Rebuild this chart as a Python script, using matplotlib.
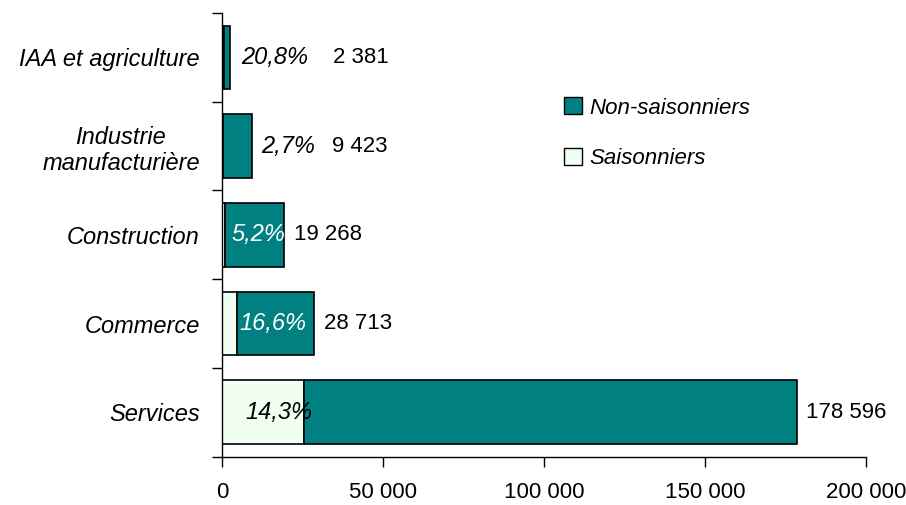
import matplotlib

matplotlib.use("Agg")

import matplotlib.pyplot as plt  # noqa: E402
from matplotlib.patches import Patch  # noqa: E402
from matplotlib.ticker import FuncFormatter  # noqa: E402

# bottom to top, as drawn
categories = ["Services", "Commerce", "Construction", "Industrie\nmanufacturière", "IAA et agriculture"]
totals = [178596, 28713, 19268, 9423, 2381]
saisonniers = [25540, 4766, 1002, 254, 495]
pct_labels = ["14,3%", "16,6%", "5,2%", "2,7%", "20,8%"]
total_labels = ["178 596", "28 713", "19 268", "9 423", "2 381"]
x_ticks = [0, 50000, 100000, 150000, 200000]

non_saisonniers = [t - s for t, s in zip(totals, saisonniers)]

# label placement (data coords), roughly where the original put them
pct_x = [17700, 15900, 11200, 20400, 16500]
pct_color = ["black", "white", "white", "black", "black"]
total_x = [181400, 31700, 22300, 34200, 34500]

TEAL = "#008080"
PALE = "#F0FFF0"
FAMILY = ["Liberation Sans Narrow", "Liberation Sans", "DejaVu Sans"]

plt.rcParams["font.family"] = FAMILY

fig = plt.figure(figsize=(9.06, 5.05), dpi=100)
ax = fig.add_axes([0.245, 0.096, 0.711, 0.878])

pos = list(range(len(categories)))
ax.barh(pos, saisonniers, height=0.72, color=PALE, edgecolor="black", lw=1.2)
ax.barh(pos, non_saisonniers, left=saisonniers, height=0.72, color=TEAL,
        edgecolor="black", lw=1.2)

for i in pos:
    ax.text(pct_x[i], i, pct_labels[i], ha="center", va="center", fontsize=17,
            style="italic", color=pct_color[i])
    ax.text(total_x[i], i, total_labels[i], ha="left", va="center", fontsize=16)

ax.set_xlim(0, 200000)
ax.set_ylim(-0.5, len(categories) - 0.5)

ax.set_xticks(x_ticks)
ax.xaxis.set_major_formatter(FuncFormatter(lambda v, p: f"{int(v):,}".replace(",", " ")))
ax.tick_params(axis="x", length=7, width=1, pad=11, labelsize=16)

ax.set_yticks(pos)
ax.set_yticklabels(categories, fontsize=17, style="italic", ha="right",
                   multialignment="center")
ax.tick_params(axis="y", which="major", length=0, pad=16)
ax.set_yticks([p - 0.5 for p in pos] + [len(pos) - 0.5], minor=True)
ax.tick_params(axis="y", which="minor", length=7, width=1)

for side in ["top", "right"]:
    ax.spines[side].set_visible(False)
ax.spines["left"].set_linewidth(1)
ax.spines["bottom"].set_linewidth(1)

handles = [Patch(facecolor=TEAL, edgecolor="black", label="Non-saisonniers"),
           Patch(facecolor=PALE, edgecolor="black", label="Saisonniers")]
ax.legend(handles=handles, loc="upper left", bbox_to_anchor=(0.5, 0.855),
          frameon=False, prop={"family": FAMILY, "style": "italic", "size": 16},
          handlelength=0.8, handleheight=0.8, handletextpad=0.35, labelspacing=1.3)

fig.savefig("out.png", dpi=100)
